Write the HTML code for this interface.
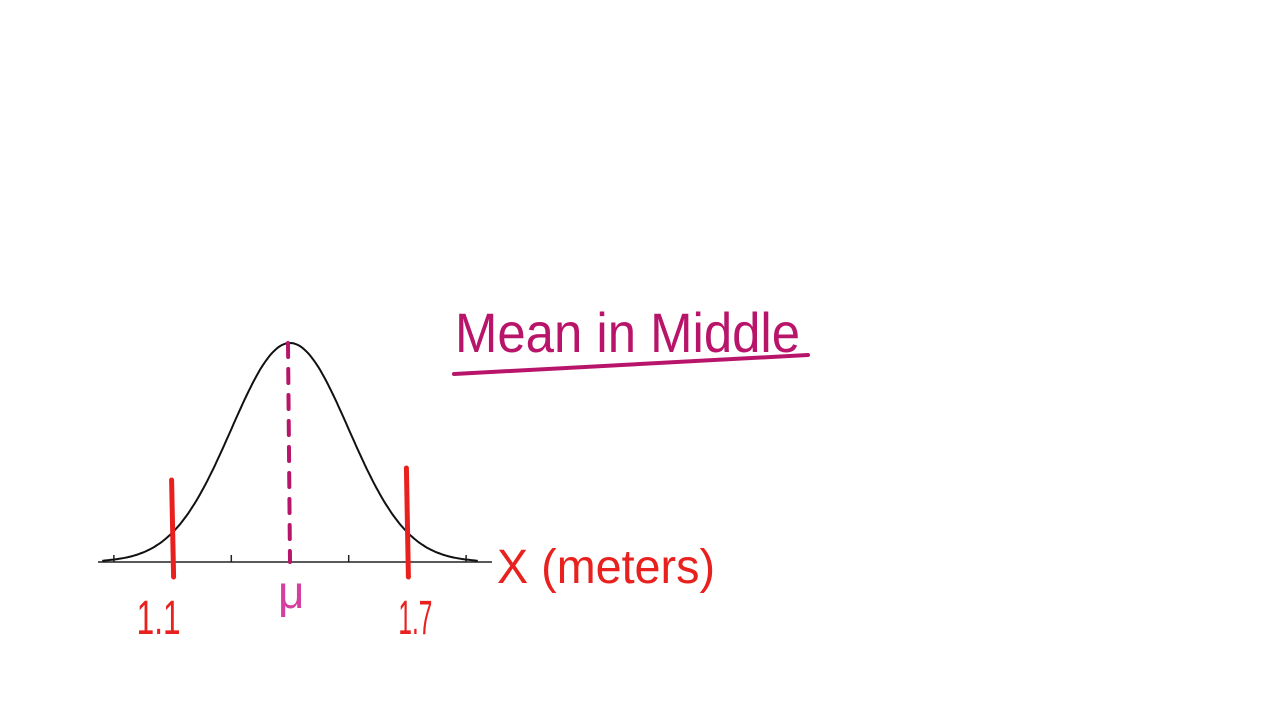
<!DOCTYPE html>
<html><head><meta charset="utf-8"><style>html,body{margin:0;padding:0;background:#fff;}svg{display:block;}</style></head>
<body>
<svg id="chart" width="1280" height="720" viewBox="0 0 1280 720" xmlns="http://www.w3.org/2000/svg">
<text x="455" y="352" font-family="Liberation Sans, sans-serif" font-size="56" fill="#b8156a" textLength="345" lengthAdjust="spacingAndGlyphs">Mean in Middle</text>
<path d="M454 374 L808 355" stroke="#b8156a" stroke-width="4" stroke-linecap="round" fill="none"/>
<text x="497" y="583" font-family="Liberation Sans, sans-serif" font-size="48" fill="#e8201e" textLength="218" lengthAdjust="spacingAndGlyphs">X (meters)</text>
<g id="plot"></g>
</svg>
<script>
const mean = [1.4];
const sd = [0.15];
const tickValues = [0.95, 1.1, 1.25, 1.4, 1.55, 1.7, 1.85];
const markedValues = [1.1, 1.7];
const markedLabels = ["1.1", "1.7"];
const meanLabel = ["μ"];

const NS = "http://www.w3.org/2000/svg";
const g = document.getElementById('plot');
const cx = 290, pxPerSd = 58.7, axisY = 562, peakH = 219;
const xScale = v => cx + (v - mean[0]) / sd[0] * pxPerSd;
const yScale = d => axisY - d * peakH;
function mk(tag, attrs){const e=document.createElementNS(NS,tag);for(const k in attrs)e.setAttribute(k,attrs[k]);g.appendChild(e);return e;}

const axis = mk('line',{x1:98,y1:axisY,x2:492,y2:axisY,stroke:'#222','stroke-width':1.5});



tickValues.forEach(v=>{
  const t = mk('line',{x1:xScale(v),y1:axisY-7,x2:xScale(v),y2:axisY,stroke:'#222','stroke-width':1.5});
  
  
});

let d='';
const lo = mean[0]-3.2*sd[0], hi = mean[0]+3.2*sd[0];
for(let i=0;i<=200;i++){
  const v = lo + (hi-lo)*i/200;
  const z = (v-mean[0])/sd[0];
  d += (i?'L':'M') + xScale(v).toFixed(1) + ' ' + yScale(Math.exp(-z*z/2)).toFixed(1);
}
const curve = mk('path',{d:d,fill:'none',stroke:'#111','stroke-width':2});



const ml = mk('line',{x1:xScale(mean[0])-2,y1:yScale(1),x2:xScale(mean[0]),y2:axisY,stroke:'#b8156a','stroke-width':4,'stroke-dasharray':'14 12','stroke-linecap':'round'});



const mt = mk('text',{x:xScale(mean[0])-12,y:608,'font-family':'Liberation Sans, DejaVu Sans, sans-serif','font-size':46,fill:'#d43fa0'});
mt.textContent = meanLabel[0];



markedValues.forEach((v,i)=>{
  const x = xScale(v);
  const l = mk('line',{x1:x-1,y1:480-(i?12:0),x2:x+1,y2:577,stroke:'#e8201e','stroke-width':5,'stroke-linecap':'round'});
  
  
  const t = mk('text',{x:x+(i?8:-14),y:634,'text-anchor':'middle','font-family':'Liberation Sans, sans-serif','font-size':48,fill:'#e8201e',textLength:(i?34:44),lengthAdjust:'spacingAndGlyphs'});
  t.textContent = markedLabels[i];
  
  
});
</script>
</body></html>
